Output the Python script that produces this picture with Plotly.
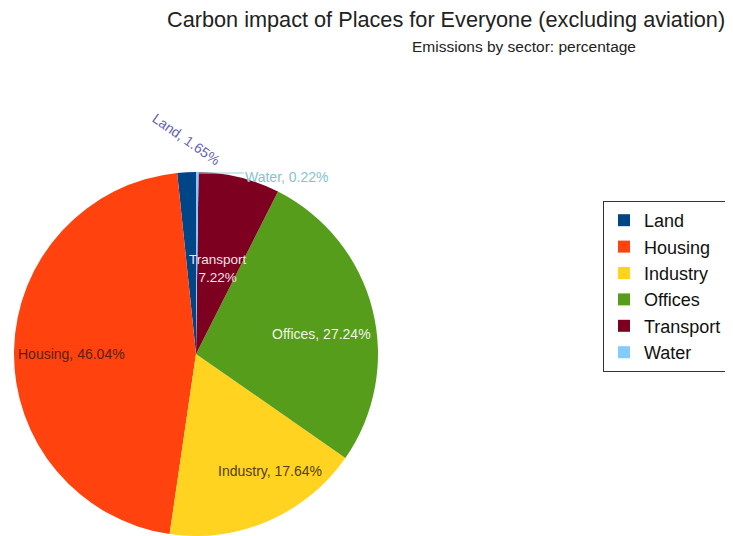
import plotly.graph_objects as go

labels = ["Land", "Housing", "Industry", "Offices", "Transport", "Water"]
values = [1.65, 46.04, 17.64, 27.24, 7.22, 0.22]
colors = ["#004586", "#ff420e", "#ffd320", "#579d1c", "#7e0021", "#83caff"]

# page body has an 8px margin, so the figure sits at (8, 8) in the window
OFF = 8
W, H = 733 - OFF, 536 - OFF
CX, CY, R = 196, 354, 182  # pie centre/radius in window pixels (layout only)


def px(x, y):
    return (x - OFF) / W, 1 - (y - OFF) / H


total = sum(values)
first_angle = values[0] / total * 360

fig = go.Figure(go.Pie(
    labels=labels, values=values, sort=False, direction="counterclockwise",
    rotation=-first_angle, marker=dict(colors=colors, line=dict(width=0)),
    textinfo="none", hoverinfo="label+percent",
    domain=dict(x=[(CX - OFF - R) / W, (CX - OFF + R) / W],
                y=[1 - (CY - OFF + R) / H, 1 - (CY - OFF - R) / H]),
))


def pct(name):
    return f"{values[labels.index(name)] / total * 100:.2f}%"


font = "Liberation Sans, Arial, sans-serif"
ann = []


def add(text, x, y, color, size=14, angle=0):
    xx, yy = px(x, y)
    ann.append(dict(text=text, x=xx, y=yy, xref="paper", yref="paper", showarrow=False,
                    font=dict(family=font, size=size, color=color), textangle=angle,
                    xanchor="center", yanchor="middle"))


add(f"Housing, {pct('Housing')}", 72, 354, "#5e200c")
add(f"Offices, {pct('Offices')}", 321, 334, "#eef4e6")
add(f"Industry, {pct('Industry')}", 270, 471, "#4f4218")
add(f"Transport<br>{pct('Transport')}", 218, 268, "#f0e2e6", size=13.5)
add(f"Land, {pct('Land')}", 186, 139, "#6262b0", size=14, angle=35)
add(f"Water, {pct('Water')}", 287, 177, "#86c3cc", size=14)

tx, ty = px(446, 20)
ann.append(dict(text="Carbon impact of Places for Everyone (excluding aviation)", x=tx, y=ty,
                xref="paper", yref="paper", showarrow=False, xanchor="center", yanchor="middle",
                font=dict(family=font, size=21.7, color="#222222")))
sx, sy = px(524, 46)
ann.append(dict(text="Emissions by sector: percentage", x=sx, y=sy,
                xref="paper", yref="paper", showarrow=False, xanchor="center", yanchor="middle",
                font=dict(family=font, size=15.5, color="#222222")))

x0, y0 = px(198, 173)
x1, y1 = px(244, 173)
shapes = [dict(type="line", xref="paper", yref="paper", x0=x0, y0=y0, x1=x1, y1=y1,
               line=dict(color="#9fd0d8", width=1))]

lx, ly = px(603, 201)
fig.update_layout(
    width=W, height=H,
    margin=dict(l=0, r=0, t=0, b=0, autoexpand=False),
    paper_bgcolor="white", plot_bgcolor="white",
    annotations=ann, shapes=shapes,
    legend=dict(x=lx, y=ly, xanchor="left", yanchor="top",
                font=dict(family=font, size=18, color="#111111"),
                bordercolor="#333333", borderwidth=1, bgcolor="white",
                traceorder="normal"),
    showlegend=True,
)
fig.write_html("out.html")
